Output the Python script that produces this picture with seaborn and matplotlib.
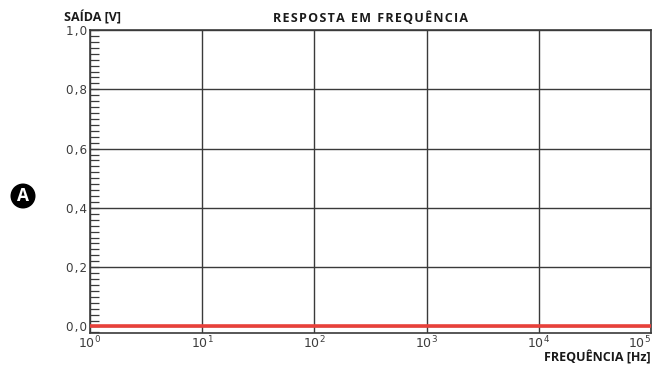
import numpy as np
import matplotlib
matplotlib.use("Agg")
import matplotlib.pyplot as plt
from matplotlib.patches import Ellipse
from matplotlib.ticker import FixedLocator, MultipleLocator, NullLocator
import seaborn as sns
import pandas as pd

# Frequency response data
freq_hz = [1, 10, 100, 1000, 10000, 100000]
output_v = [0.0, 0.0, 0.0, 0.0, 0.0, 0.0]
y_ticks = [0.0, 0.2, 0.4, 0.6, 0.8, 1.0]
y_tick_labels = ["0,0", "0,2", "0,4", "0,6", "0,8", "1,0"]
x_ticks = [1, 10, 100, 1000, 10000, 100000]
x_tick_labels = [r"$10^{0}$", r"$10^{1}$", r"$10^{2}$", r"$10^{3}$", r"$10^{4}$", r"$10^{5}$"]

sns.set_theme(style="white")
plt.rcParams["font.family"] = ["DejaVu Sans"]

df = pd.DataFrame({"freq": freq_hz, "out": output_v})

fig = plt.figure(figsize=(6.52, 3.67), dpi=100)
ax = fig.add_axes([0.1380, 0.0926, 0.8604, 0.8256])

grid_col = "#3a3a3a"
ax.set_xscale("log")
ax.set_xlim(1, 1e5)
ax.set_ylim(-0.022, 1.0)

ax.xaxis.set_major_locator(FixedLocator(x_ticks))
ax.xaxis.set_minor_locator(NullLocator())
ax.set_xticklabels(x_tick_labels)
ax.yaxis.set_major_locator(FixedLocator(y_ticks))
ax.yaxis.set_minor_locator(MultipleLocator(0.02))
ax.set_yticklabels(["\u200a".join(t) for t in y_tick_labels])

ax.grid(True, which="major", color=grid_col, linewidth=1.0)
ax.set_axisbelow(True)

sns.lineplot(data=df, x="freq", y="out", ax=ax, color="#e8403a",
             linewidth=2.6, zorder=3)

ax.tick_params(axis="y", which="both", direction="in", length=6.5,
               width=0.9, color=grid_col, left=True, labelsize=8.6,
               labelcolor="#3c3c3c", pad=2)
ax.tick_params(axis="x", which="both", length=0, labelsize=9.0,
               labelcolor="#3c3c3c", pad=1.5)
# keep the last decade label inside the figure
ax.get_xticklabels()[-1].set_horizontalalignment("right")

for s in ax.spines.values():
    s.set_color(grid_col)
    s.set_linewidth(1.2)

ax.set_xlabel("")
ax.set_ylabel("")

bold = dict(family=["Open Sans", "DejaVu Sans"], fontweight="bold",
            color="#1a1a1a", fontsize=9)
fig.text(64 / 652, 1 - 18 / 367, "SAÍDA [V]", ha="left", va="center", **bold)
title = "RESPOSTA EM FREQUÊNCIA"
spaced = "\u200a".join(title).replace("\u200a \u200a", "\u2002")
fig.text(370 / 652, 1 - 18 / 367, spaced, ha="center", va="center", **bold)
fig.text(651 / 652, 1 - 358 / 367, "FREQUÊNCIA [Hz]", ha="right", va="center", **bold)

# Panel marker
cx, cy = 23 / 652, 1 - 196 / 367
fig.patches.append(Ellipse((cx, cy), 25 / 652, 25 / 367, transform=fig.transFigure,
                           facecolor="black", edgecolor="none"))
fig.text(cx, cy, "A", ha="center", va="center", color="white",
         fontweight="bold", fontsize=12.5, family=["Open Sans", "DejaVu Sans"])

fig.savefig("out.png", dpi=100)
